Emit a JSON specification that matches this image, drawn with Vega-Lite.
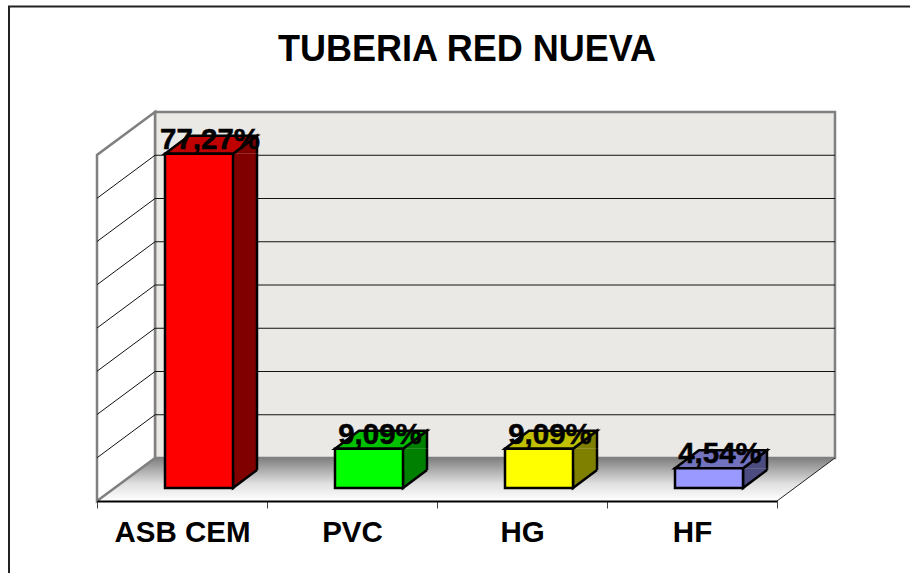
{
"width":680,"height":346,
"autosize":{"type":"none"},
"padding":{"left":97,"top":155,"right":133,"bottom":72},
"background":"white",
"config":{"view":{"stroke":null}},
"title":{"text":"TUBERIA RED NUEVA","font":"Liberation Sans","fontSize":36,"fontWeight":"bold","color":"black","anchor":"middle","dx":30,"offset":-66},
"datasets":{
"bars":[
{"tuberia":"ASB CEM","pct":77.27,"label":"77,27%"},
{"tuberia":"PVC","pct":9.09,"label":"9,09%"},
{"tuberia":"HG","pct":9.09,"label":"9,09%"},
{"tuberia":"HF","pct":4.54,"label":"4,54%"}],
"grid":[{"tuberia":"ASB CEM","tick":10},{"tuberia":"ASB CEM","tick":20},{"tuberia":"ASB CEM","tick":30},{"tuberia":"ASB CEM","tick":40},{"tuberia":"ASB CEM","tick":50},{"tuberia":"ASB CEM","tick":60},{"tuberia":"ASB CEM","tick":70}],
"base":[{"tuberia":"ASB CEM","tick":0}]
},
"layer":[
{"data":{"name":"base"},
"mark":{"type":"point","filled":true,"opacity":1,"size":4,"fill":"#ebe9e6","stroke":"#808080","strokeWidth":2.5,"shape":"M58 -43L738 -43L738 -389L58 -389Z"},
"encoding":{"x":{"field":"tuberia","type":"nominal","bandPosition":0,"title":null,"scale":{"type":"band","domain":["ASB CEM","PVC","HG","HF"],"paddingInner":0,"paddingOuter":0},"axis":{"zindex":1,"title":null,"labelAngle":0,"labelFont":"Liberation Sans","labelFontSize":29.5,"labelFontWeight":"bold","labelColor":"black","labelPadding":10,"domainColor":"black","domainWidth":2,"tickColor":"#444444","tickWidth":1,"tickSize":7,"tickBand":"extent"}},"y":{"field":"tick","type":"quantitative","scale":{"domain":[0,80]},"axis":null}}},
{"data":{"name":"base"},
"mark":{"type":"point","filled":true,"opacity":1,"size":4,"strokeWidth":0,"shape":"M0 0L680 0L738 -43L58 -43Z","fill":{"gradient":"linear","x1":0,"y1":0,"x2":0,"y2":1,"stops":[{"offset":0,"color":"#7f7f7f"},{"offset":0.6,"color":"#e0e0e0"},{"offset":1,"color":"#ffffff"}]}},
"encoding":{"x":{"field":"tuberia","type":"nominal","bandPosition":0,"title":null},"y":{"field":"tick","type":"quantitative","axis":null}}},
{"data":{"name":"base"},
"mark":{"type":"point","filled":true,"opacity":1,"size":4,"fill":"white","stroke":"#808080","strokeWidth":2.5,"shape":"M0 0L58 -43L58 -389L0 -346Z"},
"encoding":{"x":{"field":"tuberia","type":"nominal","bandPosition":0,"title":null},"y":{"field":"tick","type":"quantitative","axis":null}}},
{"data":{"name":"base"},
"mark":{"type":"point","filled":false,"opacity":1,"size":4,"stroke":"#222222","strokeWidth":1,"shape":"M680 0L738 -43"},
"encoding":{"x":{"field":"tuberia","type":"nominal","bandPosition":0,"title":null},"y":{"field":"tick","type":"quantitative","axis":null}}},
{"data":{"name":"base"},
"mark":{"type":"point","filled":false,"opacity":1,"size":4,"stroke":"#222222","strokeWidth":2,"shape":"M-88 72L-88 -494.5L815 -494.5"},
"encoding":{"x":{"field":"tuberia","type":"nominal","bandPosition":0,"title":null},"y":{"field":"tick","type":"quantitative","axis":null}}},
{"data":{"name":"grid"},
"mark":{"type":"point","filled":false,"opacity":1,"size":4,"stroke":"#111111","strokeWidth":1,"shape":"M0 0L58 -43L738 -43"},
"encoding":{"x":{"field":"tuberia","type":"nominal","bandPosition":0,"title":null},"y":{"field":"tick","type":"quantitative","axis":null}}},
{"data":{"name":"bars"},
"mark":{"type":"bar","size":24,"xOffset":63,"yOffset":-13,"y2Offset":-31},
"encoding":{"x":{"field":"tuberia","type":"nominal","title":null},"y":{"field":"pct","type":"quantitative","axis":null},"y2":{"datum":0},
"fill":{"condition":[{"test":"datum.tuberia==='ASB CEM'","value":"#800000"},{"test":"datum.tuberia==='PVC'","value":"#008000"},{"test":"datum.tuberia==='HG'","value":"#808000"}],"value":"#4c4c80"}}},
{"data":{"name":"bars"},
"mark":{"type":"rule","stroke":"black","strokeWidth":2.5,"xOffset":75,"yOffset":-13,"y2Offset":-31},
"encoding":{"x":{"field":"tuberia","type":"nominal","title":null},"y":{"field":"pct","type":"quantitative","axis":null},"y2":{"datum":0}}},
{"data":{"name":"bars"},
"mark":{"type":"point","filled":true,"opacity":1,"size":4,"stroke":"black","strokeWidth":2.5,"xOffset":17,"yOffset":-13,"shape":"M34 -18L34 0L58 -18"},
"encoding":{"x":{"field":"tuberia","type":"nominal","title":null},"y":{"datum":0,"axis":null},
"fill":{"condition":[{"test":"datum.tuberia==='ASB CEM'","value":"#800000"},{"test":"datum.tuberia==='PVC'","value":"#008000"},{"test":"datum.tuberia==='HG'","value":"#808000"}],"value":"#4c4c80"}}},
{"data":{"name":"bars"},
"mark":{"type":"point","filled":true,"opacity":1,"size":4,"stroke":"black","strokeWidth":2.5,"xOffset":17,"yOffset":-13,"shape":"M58 0L58 -18L34 0"},
"encoding":{"x":{"field":"tuberia","type":"nominal","title":null},"y":{"field":"pct","type":"quantitative","axis":null},
"fill":{"condition":[{"test":"datum.tuberia==='ASB CEM'","value":"#800000"},{"test":"datum.tuberia==='PVC'","value":"#008000"},{"test":"datum.tuberia==='HG'","value":"#808000"}],"value":"#4c4c80"}}},
{"data":{"name":"bars"},
"mark":{"type":"point","filled":true,"opacity":1,"size":4,"stroke":"black","strokeWidth":2.5,"xOffset":17,"yOffset":-13,"shape":"M-34 0L34 0L58 -18L-10 -18Z"},
"encoding":{"x":{"field":"tuberia","type":"nominal","title":null},"y":{"field":"pct","type":"quantitative","axis":null},
"fill":{"condition":[{"test":"datum.tuberia==='ASB CEM'","value":"#c00000"},{"test":"datum.tuberia==='PVC'","value":"#00c000"},{"test":"datum.tuberia==='HG'","value":"#c0c000"}],"value":"#7272bf"}}},
{"data":{"name":"bars"},
"mark":{"type":"bar","size":68,"stroke":"black","strokeWidth":2.5,"xOffset":17,"yOffset":-13,"y2Offset":-13},
"encoding":{"x":{"field":"tuberia","type":"nominal","title":null},"y":{"field":"pct","type":"quantitative","axis":null},"y2":{"datum":0},
"fill":{"condition":[{"test":"datum.tuberia==='ASB CEM'","value":"#ff0000"},{"test":"datum.tuberia==='PVC'","value":"#00ff00"},{"test":"datum.tuberia==='HG'","value":"#ffff00"}],"value":"#9999ff"}}},
{"data":{"name":"bars"},
"mark":{"type":"text","font":"Liberation Sans","fontSize":29.5,"fontWeight":"bold","color":"black","stroke":"black","strokeWidth":0.5,"baseline":"alphabetic","align":"center","xOffset":28,"yOffset":-18},
"encoding":{"x":{"field":"tuberia","type":"nominal","title":null},"y":{"field":"pct","type":"quantitative","axis":null},"text":{"field":"label"}}}
]
}
